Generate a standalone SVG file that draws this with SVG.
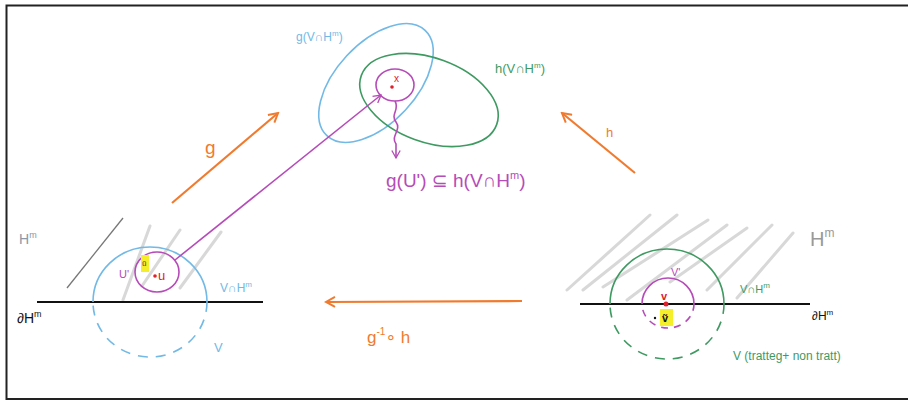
<svg xmlns="http://www.w3.org/2000/svg" width="908" height="405" viewBox="0 0 908 405">
<defs>
<style>
text{font-family:"Liberation Sans","DejaVu Sans",sans-serif;}
.frame{fill:none;stroke:#222;stroke-width:2}
.hatch{stroke:#d8d8d8;stroke-width:3;stroke-linecap:round}
.blue{fill:none;stroke:#72b9e6;stroke-width:1.6}
.green{fill:none;stroke:#3f9a62;stroke-width:1.6}
.pink{fill:none;stroke:#b54cb8;stroke-width:1.6}
.dash{stroke-dasharray:10 8}
.axis{stroke:#111;stroke-width:2}
.orange{stroke:#f07b2f;stroke-width:2.2;fill:none}
.tb{fill:#72b9e6}.tg{fill:#3f9a62}.tp{fill:#b54cb8}.to{fill:#f07b2f}.tk{fill:#111}.tgr{fill:#8a98a8}
</style>
<marker id="oa" viewBox="0 0 12 12" refX="10" refY="6" markerWidth="12" markerHeight="12" markerUnits="userSpaceOnUse" orient="auto"><path d="M1,1 L10,6 L1,11" fill="none" stroke="#f07b2f" stroke-width="2"/></marker>
<marker id="pa" viewBox="0 0 12 12" refX="10" refY="6" markerWidth="10" markerHeight="10" markerUnits="userSpaceOnUse" orient="auto"><path d="M1,1 L10,6 L1,11" fill="none" stroke="#b54cb8" stroke-width="1.6"/></marker>
</defs>
<path class="frame" d="M910,5.5 H6.5 V399 H910"/>

<g id="left-halfspace">
<line x1="123" y1="300" x2="150" y2="226" class="hatch"/>
<line x1="142" y1="286" x2="180" y2="230" class="hatch"/>
<line x1="180" y1="288" x2="221" y2="232" class="hatch"/>
<line x1="67" y1="288" x2="123" y2="218" stroke="#777" stroke-width="1.3"/>
<text x="19" y="244" font-size="14" class="tgr">H<tspan font-size="9" dy="-6">m</tspan></text>
<line x1="37" y1="302" x2="263" y2="302" class="axis"/>
<text x="17" y="323" font-size="14" class="tk">∂H<tspan font-size="9" dy="-6">m</tspan></text>
</g>

<g id="left-V">
<path class="blue" d="M93,302 A57,55 0 0 1 207,302"/>
<path class="blue dash" d="M207,302 A57,55 0 0 1 93,302"/>
<text x="220" y="292" font-size="12" class="tb">V∩H<tspan font-size="8" dy="-5">m</tspan></text>
<text x="214" y="352" font-size="13" class="tb">V</text>
</g>

<g id="left-U">
<ellipse class="pink" cx="157" cy="272" rx="22" ry="20"/>
<text x="119" y="278" font-size="11" class="tp">U'</text>
<rect x="141" y="255" width="8" height="17" fill="#f5ee2a"/>
<text x="142" y="266" font-size="8" fill="#444">ũ</text>
<circle cx="155" cy="276" r="1.8" fill="#e0202a"/>
<text x="158" y="280" font-size="13" fill="#e0202a">u</text>
</g>

<g id="image-g">
<ellipse class="blue" cx="376" cy="83" rx="72" ry="40" transform="rotate(-47 376 83)"/>
<text x="296" y="41" font-size="12" class="tb">g(V∩H<tspan font-size="8" dy="-5">m</tspan><tspan dy="5">)</tspan></text>
</g>

<g id="image-h">
<ellipse class="green" cx="429" cy="100" rx="72" ry="42" transform="rotate(20 429 100)"/>
<text x="495" y="73" font-size="13" class="tg">h(V∩H<tspan font-size="8" dy="-5">m</tspan><tspan dy="5">)</tspan></text>
</g>

<g id="image-U">
<ellipse class="pink" cx="395" cy="85" rx="19" ry="16"/>
<circle cx="392" cy="87" r="1.8" fill="#e0202a"/>
<text x="394" y="82" font-size="10" fill="#e0202a">x</text>
<text x="386" y="187" font-size="19" class="tp">g(U') ⊆ h(V∩H<tspan font-size="11" dy="-8">m</tspan><tspan dy="8">)</tspan></text>
</g>

<g id="right-halfspace">
<line x1="567" y1="290" x2="650" y2="215" class="hatch"/>
<line x1="583" y1="290" x2="677" y2="215" class="hatch"/>
<line x1="603" y1="287" x2="708" y2="220" class="hatch"/>
<line x1="627" y1="300" x2="727" y2="225" class="hatch"/>
<line x1="670" y1="282" x2="747" y2="228" class="hatch"/>
<line x1="707" y1="290" x2="772" y2="225" class="hatch"/>
<line x1="737" y1="298" x2="793" y2="233" class="hatch"/>
<line x1="580" y1="304" x2="810" y2="304" class="axis"/>
<text x="812" y="320" font-size="12" class="tk">∂H<tspan font-size="8" dy="-5">m</tspan></text>
<text x="810" y="246" font-size="20" fill="#999">H<tspan font-size="12" dy="-9">m</tspan></text>
</g>

<g id="right-V">
<path class="green" d="M610,304 A57,55 0 0 1 724,304"/>
<path class="green dash" d="M724,304 A57,55 0 0 1 610,304"/>
<text x="740" y="293" font-size="11" class="tg">V∩H<tspan font-size="8" dy="-5">m</tspan></text>
<text x="733" y="360" font-size="12" class="tg">V (tratteg+ non tratt)</text>
</g>

<g id="right-V-prime">
<path class="pink" d="M642,304 A26,26 0 0 1 694,304"/>
<path class="pink" stroke-dasharray="7 6" d="M694,304 A26,24 0 0 1 642,304"/>
<text x="671" y="276" font-size="11" class="tp">V'</text>
<circle cx="666" cy="304" r="2.5" fill="#e0202a"/>
<text x="661" y="300" font-size="11" fill="#e0202a" font-weight="bold">v</text>
<rect x="660" y="309" width="13" height="17" fill="#f5ee2a"/>
<text x="662" y="322" font-size="11" class="tk" font-weight="bold">ṽ</text>
<circle cx="655" cy="318" r="1.2" fill="#111"/>
</g>

<g id="connectors">
<line x1="175" y1="260" x2="381" y2="95" class="pink" marker-end="url(#pa)"/>
<path class="pink" d="M395,101 C400,110 390,114 396,122 C402,130 390,136 396,144 L396,158" marker-end="url(#pa)"/>
<line x1="172" y1="203" x2="278" y2="113" class="orange" marker-end="url(#oa)"/>
<line x1="635" y1="173" x2="562" y2="113" class="orange" marker-end="url(#oa)"/>
<line x1="522" y1="301" x2="326" y2="302" class="orange" marker-end="url(#oa)"/>
</g>
<g id="arrow-labels">
<text x="205" y="154" font-size="19" class="to">g</text>
<text x="606" y="137" font-size="13" class="to">h</text>
<text x="367" y="343" font-size="17" class="to">g<tspan font-size="10" dy="-8">-1</tspan><tspan dy="8">∘ h</tspan></text>
</g>
</svg>
